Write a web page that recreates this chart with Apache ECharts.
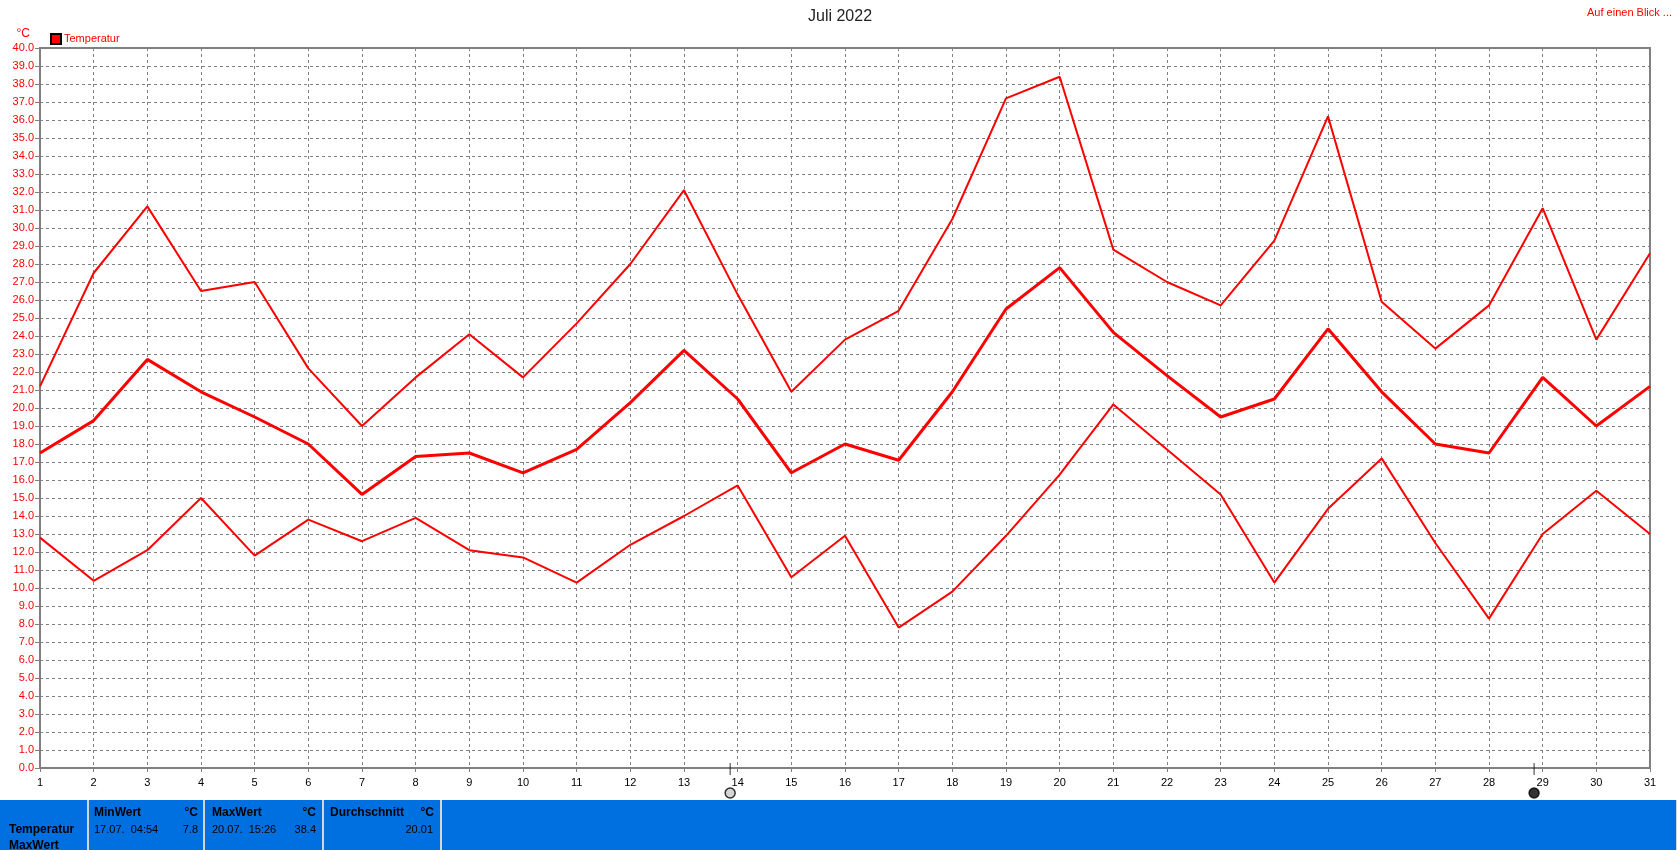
<!DOCTYPE html>
<html><head><meta charset="utf-8">
<style>html,body{margin:0;padding:0;background:#fff;overflow:hidden}#c{width:1677px;height:850px}</style>
<script src="https://cdn.jsdelivr.net/npm/echarts@6/dist/echarts.min.js"></script>
</head><body><div id="c"></div>
<script>
const days = Array.from({length:31},(_,i)=>i+1);
const tempMax = [21.2,27.5,31.2,26.5,27.0,22.2,19.0,21.7,24.1,21.7,24.7,28.0,32.1,26.3,20.9,23.8,25.4,30.5,37.2,38.4,28.8,27.0,25.7,29.3,36.2,25.9,23.3,25.7,31.1,23.8,28.6];
const tempAvg = [17.5,19.3,22.7,20.9,19.5,18.0,15.2,17.3,17.5,16.4,17.7,20.3,23.2,20.5,16.4,18.0,17.1,20.9,25.5,27.8,24.2,21.8,19.5,20.5,24.4,20.9,18.0,17.5,21.7,19.0,21.2];
const tempMin = [12.8,10.4,12.1,15.0,11.8,13.8,12.6,13.9,12.1,11.7,10.3,12.4,14.0,15.7,10.6,12.9,7.8,9.8,12.9,16.3,20.2,17.7,15.2,10.3,14.4,17.2,12.5,8.3,13.0,15.4,13.0];
const fullMoon = [13.86];
const newMoon = [28.84];
const FONT = '"Liberation Sans", Arial, sans-serif';
const pair = a => a.map((v,i)=>[days[i],v]);
const lineS = (data,w)=>({name:'Temperatur',type:'line',data:pair(data),symbol:'none',smooth:false,z:5,
  lineStyle:{color:'#ff0000',width:w},itemStyle:{color:'#ff0000',borderColor:'#000',borderWidth:1}});
const moonTick = xs=>({name:'Mond',type:'scatter',clip:false,silent:true,z:6,symbol:'rect',symbolSize:[1,12],symbolOffset:[0,1],
  data:xs.map(x=>[x,0]),itemStyle:{color:'#000'}});
const moonDisc = (xs,fill)=>({name:'Mond',type:'scatter',clip:false,silent:true,z:6,symbol:'circle',symbolSize:10,symbolOffset:[0,25],
  data:xs.map(x=>[x,0]),itemStyle:{color:fill,borderColor:'#000',borderWidth:1.5}});

const panelCells = [[0,87],[89,114],[205,117],[324,116],[442,1234]];
const panelTexts = [
  ['Temperatur',9,830,'left',true],['MaxWert',9,846,'left',true],
  ['MinWert',94,813,'left',true],['°C',198,813,'right',true],['17.07.  04:54',94,830,'left',false],['7.8',198,830,'right',false],
  ['MaxWert',212,813,'left',true],['°C',316,813,'right',true],['20.07.  15:26',212,830,'left',false],['38.4',316,830,'right',false],
  ['Durchschnitt',330,813,'left',true],['°C',434,813,'right',true],['20.01',433,830,'right',false]
];
const graphic = [
  {type:'rect',shape:{x:0,y:800,width:1677,height:50},style:{fill:'#d4d4d4'},silent:true},
  ...panelCells.map(c=>({type:'rect',shape:{x:c[0],y:800,width:c[1],height:50},style:{fill:'#006fe0'},silent:true})),
  ...panelTexts.map(t=>({type:'text',x:t[1],y:t[2],silent:true,style:{text:t[0],fill:'#000',font:(t[4]?'bold 12px ':'11px ')+FONT,textAlign:t[3],textVerticalAlign:'middle'}}))
];
const chart = echarts.init(document.getElementById('c'),null,{renderer:'canvas'});
chart.setOption({
  animation:false,backgroundColor:'#fff',
  title:[
    {text:'Juli 2022',left:835,top:4,textAlign:'center',textStyle:{color:'#222',fontSize:16,fontWeight:'normal',fontFamily:FONT}},
    {text:'Auf einen Blick ...',right:0,top:2,textStyle:{color:'#ff0000',fontSize:11,fontWeight:'normal',fontFamily:FONT}}
  ],
  legend:{data:['Temperatur'],left:45,top:28,itemWidth:10,itemHeight:10,itemGap:4,selectedMode:false,icon:'rect',
    textStyle:{color:'#ff0000',fontSize:11,fontFamily:FONT,padding:[0,0,0,-2]}},
  grid:{left:40,right:27,top:48,bottom:82,show:true,borderColor:'#808080',borderWidth:2,containLabel:false},
  xAxis:{type:'value',min:1,max:31,interval:1,
    axisLine:{show:true,lineStyle:{color:'#808080',width:2}},
    axisTick:{show:true,length:4,lineStyle:{color:'#808080'}},
    axisLabel:{color:'#000',fontSize:11,fontFamily:FONT,margin:9},
    splitLine:{show:true,lineStyle:{color:'#808080',type:[3,3],width:1}}},
  yAxis:{type:'value',min:0,max:40,interval:1,name:'°C',nameLocation:'end',nameGap:8,
    nameTextStyle:{color:'#ff0000',fontSize:12,fontFamily:FONT,align:'right',padding:[0,10,0,0]},
    axisLine:{show:true,lineStyle:{color:'#808080',width:2}},
    axisTick:{show:true,length:5,lineStyle:{color:'#808080'}},
    axisLabel:{color:'#ff0000',fontSize:11,fontFamily:FONT,margin:6,formatter:v=>v.toFixed(1)},
    splitLine:{show:true,lineStyle:{color:'#808080',type:[3,3],width:1}}},
  series:[lineS(tempMax,2),lineS(tempAvg,3),lineS(tempMin,2),moonTick(fullMoon),moonTick(newMoon),moonDisc(fullMoon,'#cccccc'),moonDisc(newMoon,'#000')],
  graphic
});
</script></body></html>
